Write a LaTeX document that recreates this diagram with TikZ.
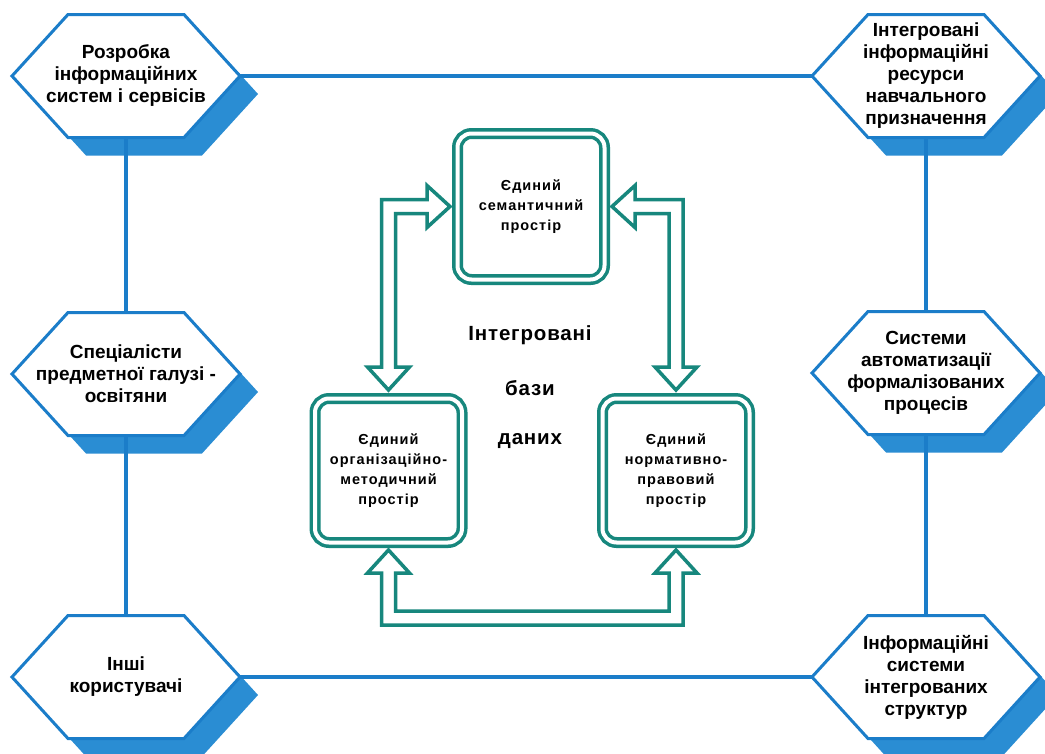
\documentclass[tikz,border=0pt]{standalone}
\usepackage{fontspec}
\setmainfont{Liberation Sans}
\newfontfamily\boxfont[LetterSpace=7]{Liberation Sans}
\newfontfamily\titlefont[LetterSpace=4]{Liberation Sans}
\usetikzlibrary{backgrounds,calc}
\definecolor{hexblue}{HTML}{1B7DC9}
\definecolor{shadeblue}{HTML}{2A8DD3}
\definecolor{dbteal}{HTML}{17877D}
\tikzset{
  hexbox/.style={minimum width=228, minimum height=123, inner sep=0pt, outer sep=0pt,
    align=center, font=\fontsize{19}{22}\selectfont\bfseries},
  hexline/.style={draw=hexblue, line width=4pt},
  hexedge/.style={draw=hexblue, line width=3pt, fill=white, line join=miter},
  hexshadow/.style={fill=shadeblue, transform canvas={xshift=18pt, yshift=-18pt}},
  dbbox/.style={draw=dbteal, double=white, double distance=4pt, line width=3.5pt,
    rounded corners=14pt, minimum width=147, minimum height=146, outer sep=5.5pt,
    align=center, font=\boxfont\fontsize{14.5}{20}\selectfont\bfseries},
  dbtitle/.style={font=\titlefont\fontsize{20.5}{22}\selectfont\bfseries},
  hollowarrow/.style={draw=dbteal, line width=3.5pt, fill=white, line join=miter}
}
\begin{document}
\begin{tikzpicture}[x=1pt,y=-1pt]
  \useasboundingbox (0,0) rectangle (1045,753);
  % hexagons
  \node[hexbox] (dev) at (126,76) {Розробка\\інформаційних\\систем і сервісів};
  \node[hexbox] (res) at (926,76) {Інтегровані\\інформаційні\\ресурси\\навчального\\призначення};
  \node[hexbox] (spec) at (126,374) {Спеціалісти\\предметної галузі -\\освітяни};
  \node[hexbox] (auto) at (926,373) {Системи\\автоматизації\\формалізованих\\процесів};
  \node[hexbox] (other) at (126,677) {Інші\\користувачі};
  \node[hexbox] (istr) at (926,677) {Інформаційні\\системи\\інтегрованих\\структур};
  \begin{scope}[on background layer]
    \fill[white] (0,0) rectangle (1045,753);
    \foreach \n in {dev,res,spec,auto,other,istr} {
      \path[hexshadow] (\n.west) -- ($(\n.north west)+(56,0)$) -- ($(\n.north east)+(-56,0)$)
        -- (\n.east) -- ($(\n.south east)+(-56,0)$) -- ($(\n.south west)+(56,0)$) -- cycle;
    }
    \foreach \n in {dev,res,spec,auto,other,istr} {
      \draw[hexedge] (\n.west) -- ($(\n.north west)+(56,0)$) -- ($(\n.north east)+(-56,0)$)
        -- (\n.east) -- ($(\n.south east)+(-56,0)$) -- ($(\n.south west)+(56,0)$) -- cycle;
    }
  \end{scope}
  \draw[hexline] (dev.east) -- (res.west);
  \draw[hexline] (other.east) -- (istr.west);
  \draw[hexline] (dev.south) -- (spec.north);
  \draw[hexline] (spec.south) -- (other.north);
  \draw[hexline] (res.south) -- (auto.north);
  \draw[hexline] (auto.south) -- (istr.north);
  % databases
  \node[dbbox] (sem) at (531,206.5) {Єдиний\\семантичний\\простір};
  \node[dbbox, minimum height=144] (org) at (388.5,470.5) {Єдиний\\організаційно-\\методичний\\простір};
  \node[dbbox, minimum height=144] (norm) at (676,470.5) {Єдиний\\нормативно-\\правовий\\простір};
  \node[dbtitle] (intg) at (530,335.5) {Інтегровані};
  \node[dbtitle] (bazy) at (530,388) {бази};
  \node[dbtitle] (danyh) at (530,441) {даних};
  % hollow arrows
  \coordinate (lt) at ($(sem.west)+(-2,0)$);
  \coordinate (lb) at ($(org.north)+(0,-3)$);
  \coordinate (rt) at ($(sem.east)+(2,0)$);
  \coordinate (rb) at ($(norm.north)+(0,-3)$);
  \coordinate (bl) at ($(org.south)+(0,2)$);
  \coordinate (br) at ($(norm.south)+(0,2)$);
  \coordinate (bot) at ($(org.south)+(0,70)$);
  \draw[hollowarrow] (lt) -- ($(lt)+(-23,-21)$) -- ($(lt)+(-23,-7)$) -- ($(lb |- lt)+(-7,-7)$)
    -- ($(lb)+(-7,-23)$) -- ($(lb)+(-21,-23)$) -- (lb) -- ($(lb)+(21,-23)$) -- ($(lb)+(7,-23)$)
    -- ($(lb |- lt)+(7,7)$) -- ($(lt)+(-23,7)$) -- ($(lt)+(-23,21)$) -- cycle;
  \draw[hollowarrow] (rt) -- ($(rt)+(23,-21)$) -- ($(rt)+(23,-7)$) -- ($(rb |- rt)+(7,-7)$)
    -- ($(rb)+(7,-23)$) -- ($(rb)+(21,-23)$) -- (rb) -- ($(rb)+(-21,-23)$) -- ($(rb)+(-7,-23)$)
    -- ($(rb |- rt)+(-7,7)$) -- ($(rt)+(23,7)$) -- ($(rt)+(23,21)$) -- cycle;
  \draw[hollowarrow] (bl) -- ($(bl)+(21,23)$) -- ($(bl)+(7,23)$) -- ($(bl |- bot)+(7,-7)$)
    -- ($(br |- bot)+(-7,-7)$) -- ($(br)+(-7,23)$) -- ($(br)+(-21,23)$) -- (br)
    -- ($(br)+(21,23)$) -- ($(br)+(7,23)$) -- ($(br |- bot)+(7,7)$) -- ($(bl |- bot)+(-7,7)$)
    -- ($(bl)+(-7,23)$) -- ($(bl)+(-21,23)$) -- cycle;
\end{tikzpicture}
\end{document}
